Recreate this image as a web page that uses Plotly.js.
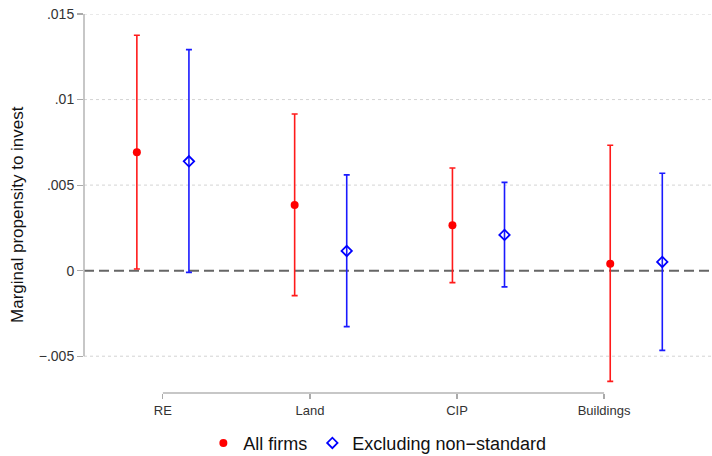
<!DOCTYPE html>
<html>
<head>
<meta charset="utf-8">
<script src="https://cdn.plot.ly/plotly-3.0.1.min.js"></script>
<style>
  html, body { margin: 0; padding: 0; background: #fff; }
  #chart { width: 712px; height: 456px; }
</style>
</head>
<body>
<div id="chart"></div>
<script>
// Asset classes on the horizontal axis
const categories = ['RE', 'Land', 'CIP', 'Buildings'];

// Point estimates and 95% confidence bounds, all firms
const allFirmsEst   = [0.00692, 0.00384, 0.00265, 0.00041];
const allFirmsLower = [0.00010, -0.00146, -0.00070, -0.00647];
const allFirmsUpper = [0.01376, 0.00916, 0.00600, 0.00733];

// Point estimates and 95% confidence bounds, excluding non-standard firms
const exclEst   = [0.00639, 0.00115, 0.00209, 0.00051];
const exclLower = [-0.00010, -0.00327, -0.00095, -0.00466];
const exclUpper = [0.01292, 0.00560, 0.00516, 0.00569];

// Y-axis ticks and their labels
const yTickVals = [-0.005, 0, 0.005, 0.01, 0.015];
const yTickText = ['\u2212.005', '0', '.005', '.01', '.015'];

const FONT = '"Liberation Sans", Arial, Helvetica, sans-serif';
const groupOffset = 0.165;   // horizontal shift of each series within a group
const tickStep = 0.932;      // spacing of the category labels on the x axis

const idx = categories.map((_, i) => i);
const xTicks = idx.map(i => i * tickStep);

function series(name, est, lower, upper, shift, color, marker) {
  return {
    type: 'scatter',
    mode: 'markers',
    name: name,
    x: idx.map(i => i + shift),
    y: est,
    marker: marker,
    error_y: {
      type: 'data',
      symmetric: false,
      array: upper.map((u, i) => u - est[i]),
      arrayminus: est.map((e, i) => e - lower[i]),
      color: color,
      thickness: 1.6,
      width: 3
    },
    hoverinfo: 'y'
  };
}

const traces = [
  series('All firms', allFirmsEst, allFirmsLower, allFirmsUpper, -groupOffset, '#ff1a1a',
         { symbol: 'circle', size: 8, color: '#ff0000' }),
  series('Excluding non\u2212standard', exclEst, exclLower, exclUpper, groupOffset, '#1a1aff',
         { symbol: 'diamond-open', size: 8, color: '#0000ff', line: { width: 1.8, color: '#0000ff' } })
];

// Dotted horizontal grid at every non-zero tick (zero gets its own dashed line)
const gridShapes = yTickVals.filter(v => v !== 0).map(v => ({
  type: 'line', xref: 'paper', yref: 'y', x0: 0, x1: 1, y0: v, y1: v, layer: 'below',
  line: { color: '#d4d4d4', width: 1, dash: 'dot' }
}));

const layout = {
  width: 712,
  height: 456,
  margin: { l: 84, r: 0, t: 14, b: 63 },
  paper_bgcolor: '#ffffff',
  plot_bgcolor: '#ffffff',
  font: { family: FONT, color: '#222' },
  showlegend: true,
  legend: {
    orientation: 'h',
    xref: 'container', yref: 'container',
    x: 0.53, xanchor: 'center',
    y: 0.028, yanchor: 'middle',
    font: { size: 18, color: '#111' },
    itemwidth: 30,
    tracegroupgap: 0
  },
  xaxis: {
    range: [-0.5, 3.48],
    tickmode: 'array',
    tickvals: xTicks,
    ticktext: categories,
    ticks: 'outside',
    ticklen: 5,
    tickwidth: 1.2,
    tickcolor: '#aaaaaa',
    tickfont: { size: 13, color: '#333' },
    showline: false,
    showgrid: false,
    zeroline: false,
    fixedrange: true
  },
  yaxis: {
    range: [-0.00715, 0.015],
    tickmode: 'array',
    tickvals: yTickVals,
    ticktext: yTickText,
    ticks: 'outside',
    ticklen: 6,
    tickwidth: 1.2,
    tickcolor: '#aaaaaa',
    tickfont: { size: 14, color: '#333' },
    showline: false,
    showgrid: false,
    zeroline: false,
    fixedrange: true
  },
  annotations: [
    { text: 'Marginal propensity to invest', textangle: -90,
      xref: 'paper', yref: 'paper', x: -0.107, y: 0.472,
      xanchor: 'center', yanchor: 'middle', showarrow: false,
      font: { size: 17, color: '#111' } }
  ],
  shapes: gridShapes.concat([
    // y-axis line spanning the labelled range
    { type: 'line', xref: 'paper', yref: 'y', x0: 0, x1: 0,
      y0: yTickVals[0], y1: yTickVals[yTickVals.length - 1],
      line: { color: '#b4b4b4', width: 1.5 } },
    // x-axis line spanning the category labels
    { type: 'line', xref: 'x', yref: 'paper', x0: xTicks[0], x1: xTicks[xTicks.length - 1],
      y0: 0, y1: 0, line: { color: '#b4b4b4', width: 1.5 } },
    // reference line at zero
    { type: 'line', xref: 'paper', yref: 'y', x0: 0, x1: 1, y0: 0, y1: 0, layer: 'below',
      line: { color: '#666666', width: 2, dash: '10px,5px' } }
  ])
};

Plotly.newPlot('chart', traces, layout, { displayModeBar: false, staticPlot: true });
</script>
</body>
</html>
